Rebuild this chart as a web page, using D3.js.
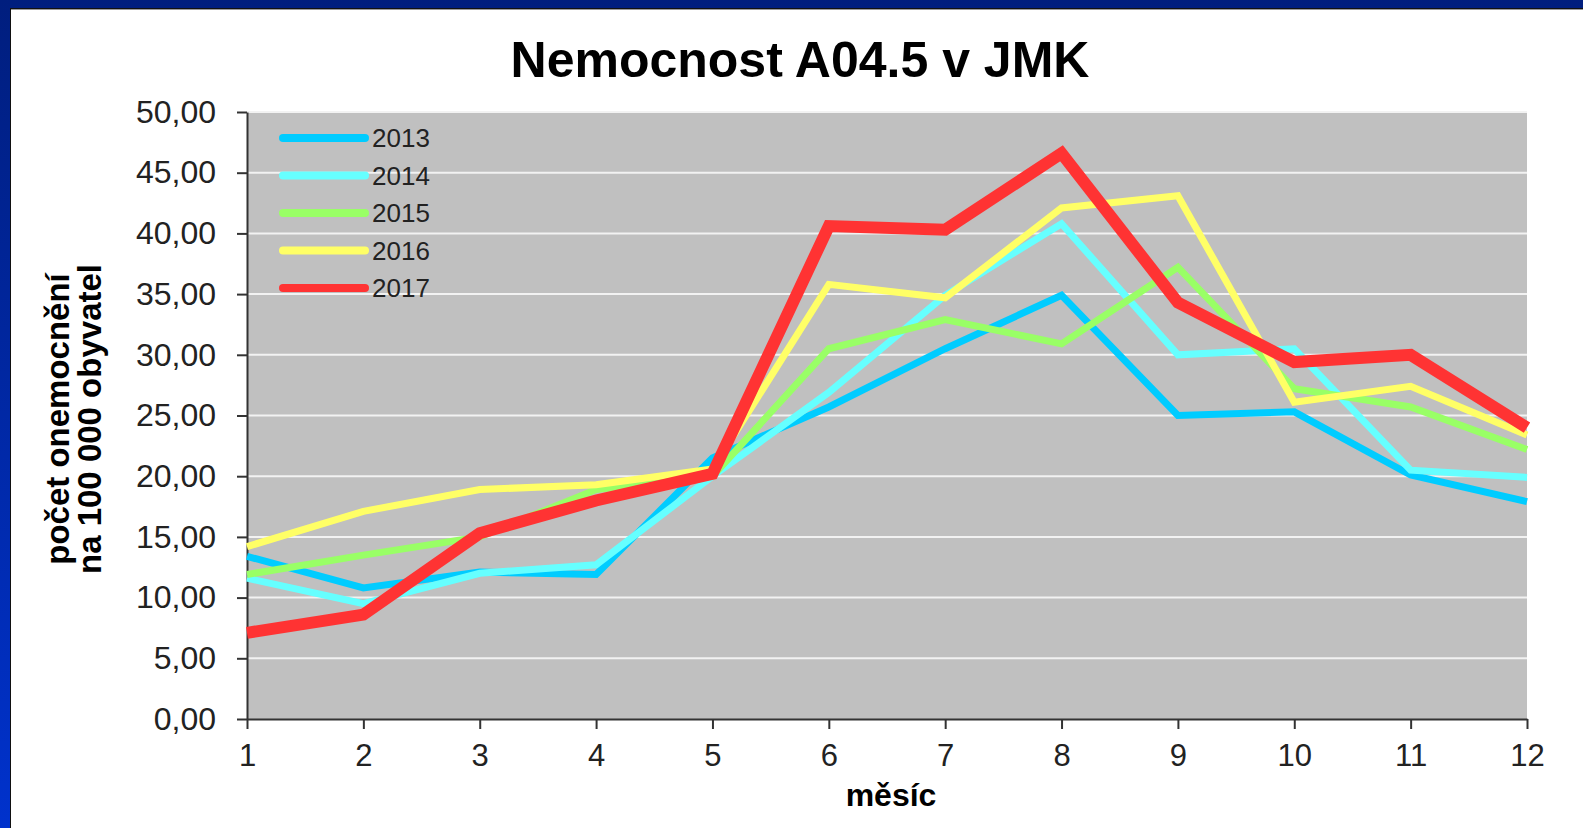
<!DOCTYPE html>
<html>
<head>
<meta charset="utf-8">
<script src="https://cdn.jsdelivr.net/npm/d3@7"></script>
<style>
  body { margin: 0; overflow: hidden; }
  text { font-family: "Liberation Sans", Arial, sans-serif; }
</style>
</head>
<body>
<div id="container"></div>
<script>
// window size
const cwW = 1583;
const cwH = 828;

// data
const months = [1, 2, 3, 4, 5, 6, 7, 8, 9, 10, 11, 12];
const years = ["2013", "2014", "2015", "2016", "2017"];
const v2013 = [13.4, 10.8, 12.1, 11.9, 21.5, 25.7, 30.5, 34.9, 25.0, 25.3, 20.1, 17.9];
const v2014 = [11.6, 9.5, 12.0, 12.7, 20.0, 26.9, 34.9, 40.8, 30.0, 30.5, 20.5, 19.9];
const v2015 = [11.9, 13.5, 15.0, 18.9, 20.0, 30.5, 32.9, 30.9, 37.2, 27.2, 25.7, 22.2];
const v2016 = [14.2, 17.1, 18.9, 19.3, 20.6, 35.8, 34.7, 42.1, 43.1, 26.1, 27.4, 23.4];
const v2017 = [7.1, 8.6, 15.3, 18.0, 20.2, 40.6, 40.3, 46.6, 34.3, 29.4, 30.0, 24.0];
const yTicks = [0, 5, 10, 15, 20, 25, 30, 35, 40, 45, 50];

const seriesColors = ["#00CCFF", "#66FFFF", "#99FF66", "#FFFF66", "#FF3333"];
const seriesWidths = [7, 7, 7, 7, 12];
const series = [v2013, v2014, v2015, v2016, v2017].map(function(vals, i) {
  return {year: years[i], values: vals, color: seriesColors[i], width: seriesWidths[i]};
});

// plot area
const pLeft = 247, pRight = 1527, pTop = 112, pBottom = 719;

let svgArea = d3.select("#container")
  .append("svg")
  .attr("width", cwW)
  .attr("height", cwH);

/**************************
* Slide frame
**************************/
let defs = svgArea.append("defs");
let grad = defs.append("linearGradient")
  .attr("id", "frameGrad")
  .attr("x1", 0).attr("y1", 0).attr("x2", 0).attr("y2", 1);
grad.append("stop").attr("offset", "0%").attr("stop-color", "#001E7E");
grad.append("stop").attr("offset", "100%").attr("stop-color", "#0032CC");

svgArea.append("rect")
  .attr("width", cwW).attr("height", cwH)
  .attr("fill", "url(#frameGrad)");
svgArea.append("rect")
  .attr("x", 10).attr("y", 8)
  .attr("width", cwW - 10).attr("height", cwH - 8)
  .attr("fill", "#111");
svgArea.append("rect")
  .attr("x", 11).attr("y", 9)
  .attr("width", cwW - 11).attr("height", cwH - 9)
  .attr("fill", "#999");
svgArea.append("rect")
  .attr("x", 11).attr("y", 10)
  .attr("width", cwW - 11).attr("height", cwH - 10)
  .attr("fill", "white");

/**************************
* Scales
**************************/
let x = d3.scaleLinear().domain([1, 12]).range([pLeft, pRight]);
let y = d3.scaleLinear().domain([0, 50]).range([pBottom, pTop]);

// plot background
svgArea.append("rect")
  .attr("x", pLeft).attr("y", pTop)
  .attr("width", pRight - pLeft).attr("height", pBottom - pTop)
  .attr("fill", "#C0C0C0");

// gridlines
svgArea.append("g")
  .attr("id", "grid")
  .selectAll("line")
  .data(yTicks.filter(d => d > 0))
  .enter()
  .append("line")
  .attr("x1", pLeft).attr("x2", pRight)
  .attr("y1", d => y(d)).attr("y2", d => y(d))
  .attr("stroke", "#F2F2F2")
  .attr("stroke-width", 2);

// title
svgArea.append("text")
  .attr("x", 800).attr("y", 77)
  .attr("text-anchor", "middle")
  .attr("font-size", 50)
  .attr("font-weight", "bold")
  .attr("fill", "#000")
  .text("Nemocnost A04.5 v JMK");

/**************************
* Axes
**************************/
let fmt = d => d.toFixed(2).replace(".", ",");

let yAxis = svgArea.append("g")
  .attr("transform", "translate(" + pLeft + ",0)")
  .call(d3.axisLeft(y).tickValues(yTicks).tickFormat(fmt).tickSize(10).tickSizeOuter(0).tickPadding(21));
yAxis.selectAll("text").attr("font-size", 32).attr("fill", "#222").attr("font-family", "Liberation Sans, Arial, sans-serif");

let xAxis = svgArea.append("g")
  .attr("transform", "translate(0," + pBottom + ")")
  .call(d3.axisBottom(x).tickValues(months).tickFormat(d3.format("d")).tickSize(10).tickSizeOuter(0).tickPadding(15));
xAxis.selectAll("text").attr("font-size", 31).attr("fill", "#222").attr("font-family", "Liberation Sans, Arial, sans-serif");

[yAxis, xAxis].forEach(function(a) {
  a.select(".domain").attr("stroke", "#333").attr("stroke-width", 2);
  a.selectAll(".tick line").attr("stroke", "#333").attr("stroke-width", 2);
});

// axis titles
svgArea.append("text")
  .attr("x", 891).attr("y", 806)
  .attr("text-anchor", "middle")
  .attr("font-size", 32)
  .attr("font-weight", "bold")
  .text("měsíc");

let yTitle = [{t: "počet onemocnění", xb: 69}, {t: "na 100 000 obyvatel", xb: 101}];
svgArea.selectAll(".ytitle")
  .data(yTitle)
  .enter()
  .append("text")
  .attr("class", "ytitle")
  .attr("transform", d => "translate(" + d.xb + ",419) rotate(-90)")
  .attr("text-anchor", "middle")
  .attr("font-size", 33)
  .attr("font-weight", "bold")
  .text(d => d.t);

/**************************
* Lines
**************************/
let line = d3.line()
  .x((d, i) => x(months[i]))
  .y(d => y(d));

svgArea.append("g")
  .attr("id", "lines")
  .selectAll("path")
  .data(series)
  .enter()
  .append("path")
  .attr("d", d => line(d.values))
  .attr("fill", "none")
  .attr("stroke", d => d.color)
  .attr("stroke-width", d => d.width)
  .attr("stroke-linejoin", "miter");

/**************************
* Legend
**************************/
let legend = svgArea.append("g")
  .attr("id", "legend")
  .selectAll("g")
  .data(series)
  .enter()
  .append("g")
  .attr("transform", (d, i) => "translate(0," + (138 + i * 37.5) + ")");

legend.append("line")
  .attr("x1", 283).attr("x2", 365)
  .attr("y1", 0).attr("y2", 0)
  .attr("stroke", d => d.color)
  .attr("stroke-width", 8)
  .attr("stroke-linecap", "round");

legend.append("text")
  .attr("x", 372).attr("y", 0)
  .attr("dy", "0.36em")
  .attr("font-size", 26)
  .attr("fill", "#222")
  .text(d => d.year);
</script>
</body>
</html>
